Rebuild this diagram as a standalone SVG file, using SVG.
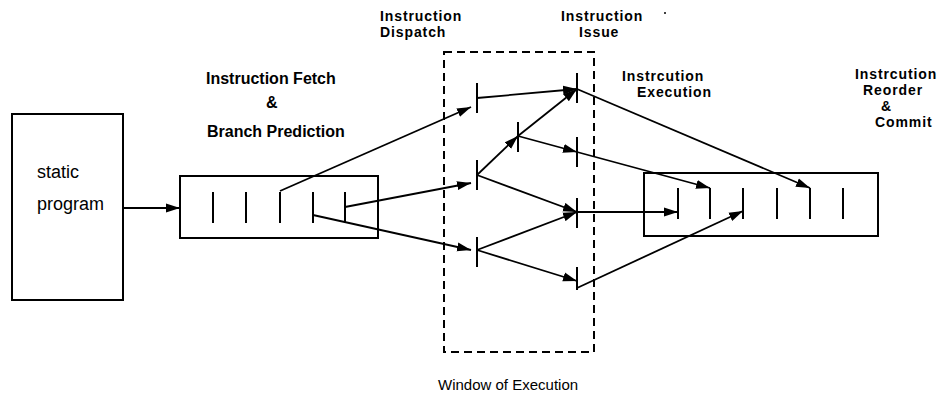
<svg xmlns="http://www.w3.org/2000/svg" width="941" height="396" viewBox="0 0 941 396">
  <defs>
    <marker id="arrow" markerUnits="userSpaceOnUse" markerWidth="16" markerHeight="10" refX="14" refY="5" orient="auto">
      <path d="M0,0.5 L14,5 L0,9.5 Z" fill="#000"/>
    </marker>
    <style>
      .box { fill: none; stroke: #000; stroke-width: 2; }
      .win { fill: none; stroke: #000; stroke-width: 2; stroke-dasharray: 8 5; }
      .tick { stroke: #000; stroke-width: 2; }
      .edge { fill: none; stroke: #000; stroke-width: 1.8; }
      .arr { marker-end: url(#arrow); }
      .lbl { font-family: "Liberation Sans", Arial, sans-serif; font-size: 16px; font-weight: bold; fill: #000; }
      .stk { font-family: "Liberation Sans", Arial, sans-serif; font-size: 14px; font-weight: bold; letter-spacing: 0.9px; fill: #000; }
      .txt { font-family: "Liberation Sans", Arial, sans-serif; font-size: 18px; fill: #000; }
    </style>
  </defs>
  <rect width="941" height="396" fill="#fff"/>

  <!-- static program -->
  <g id="static-program">
    <rect class="box" x="12" y="114" width="111" height="186"/>
    <text class="txt" x="37" y="178">static</text>
    <text class="txt" x="37" y="210">program</text>
  </g>

  <!-- fetch buffer -->
  <g id="fetch-buffer">
    <rect class="box" x="180" y="176" width="198" height="62"/>
    <line class="tick" x1="213" y1="192" x2="213" y2="223"/>
    <line class="tick" x1="246" y1="192" x2="246" y2="223"/>
    <line class="tick" x1="280" y1="192" x2="280" y2="223"/>
    <line class="tick" x1="313" y1="192" x2="313" y2="223"/>
    <line class="tick" x1="345" y1="192" x2="345" y2="223"/>
  </g>

  <!-- window of execution -->
  <g id="window">
    <rect class="win" x="444" y="52" width="150" height="300"/>
    <text class="txt" x="438" y="390" style="font-size:15px">Window of Execution</text>
  </g>

  <!-- dispatch points -->
  <g id="dispatch-1"><line class="tick" x1="477" y1="83" x2="477" y2="113"/></g>
  <g id="dispatch-2"><line class="tick" x1="477" y1="160" x2="477" y2="190"/></g>
  <g id="dispatch-3"><line class="tick" x1="477" y1="237" x2="477" y2="267"/></g>
  <g id="dispatch-mid"><line class="tick" x1="518" y1="122" x2="518" y2="152"/></g>

  <!-- issue points -->
  <g id="issue-1"><line class="tick" x1="577" y1="73" x2="577" y2="103"/></g>
  <g id="issue-2"><line class="tick" x1="577" y1="137" x2="577" y2="167"/></g>
  <g id="issue-3"><line class="tick" x1="577" y1="198" x2="577" y2="228"/></g>
  <g id="issue-4"><line class="tick" x1="577" y1="267" x2="577" y2="290"/></g>

  <!-- reorder buffer -->
  <g id="reorder-buffer">
    <rect class="box" x="644" y="173" width="234" height="63"/>
    <line class="tick" x1="678" y1="188" x2="678" y2="219"/>
    <line class="tick" x1="710" y1="188" x2="710" y2="219"/>
    <line class="tick" x1="743" y1="188" x2="743" y2="219"/>
    <line class="tick" x1="777" y1="188" x2="777" y2="219"/>
    <line class="tick" x1="810" y1="188" x2="810" y2="219"/>
    <line class="tick" x1="843" y1="188" x2="843" y2="219"/>
  </g>

  <!-- stage labels -->
  <g id="labels">
    <text class="lbl" x="206" y="84">Instruction Fetch</text>
    <text class="lbl" x="266" y="108">&amp;</text>
    <text class="lbl" x="207" y="137">Branch Prediction</text>
    <text class="stk" x="380" y="21">Instruction</text>
    <text class="stk" x="380" y="37">Dispatch</text>
    <text class="stk" x="561" y="21">Instruction</text>
    <text class="stk" x="579" y="37">Issue</text>
    <text class="stk" x="622" y="81">Instrcution</text>
    <text class="stk" x="637" y="97">Execution</text>
    <text class="stk" x="855" y="79">Instrcution</text>
    <text class="stk" x="863" y="95">Reorder</text>
    <text class="stk" x="881" y="111">&amp;</text>
    <text class="stk" x="875" y="127">Commit</text>
    <circle cx="665" cy="13" r="1" fill="#000"/>
  </g>

  <!-- connectors -->
  <g id="connectors">
    <line class="edge arr" x1="123" y1="208" x2="180" y2="208"/>
    <line class="edge arr" x1="280" y1="191" x2="471" y2="107"/>
    <line class="edge arr" x1="345" y1="207" x2="471" y2="183"/>
    <line class="edge arr" x1="313" y1="215" x2="471" y2="250"/>

    <line class="edge arr" x1="477" y1="98" x2="577" y2="89"/>
    <line class="edge arr" x1="477" y1="175" x2="518" y2="136"/>
    <line class="edge arr" x1="518" y1="136" x2="577" y2="89"/>
    <line class="edge arr" x1="518" y1="136" x2="577" y2="152"/>
    <line class="edge arr" x1="477" y1="175" x2="577" y2="212"/>
    <line class="edge arr" x1="477" y1="250" x2="577" y2="212"/>
    <line class="edge arr" x1="477" y1="250" x2="577" y2="281"/>

    <line class="edge arr" x1="577" y1="89" x2="810" y2="188"/>
    <line class="edge arr" x1="577" y1="152" x2="710" y2="188"/>
    <line class="edge arr" x1="577" y1="212" x2="678" y2="212"/>
    <line class="edge arr" x1="577" y1="288" x2="743" y2="211"/>
  </g>
</svg>
